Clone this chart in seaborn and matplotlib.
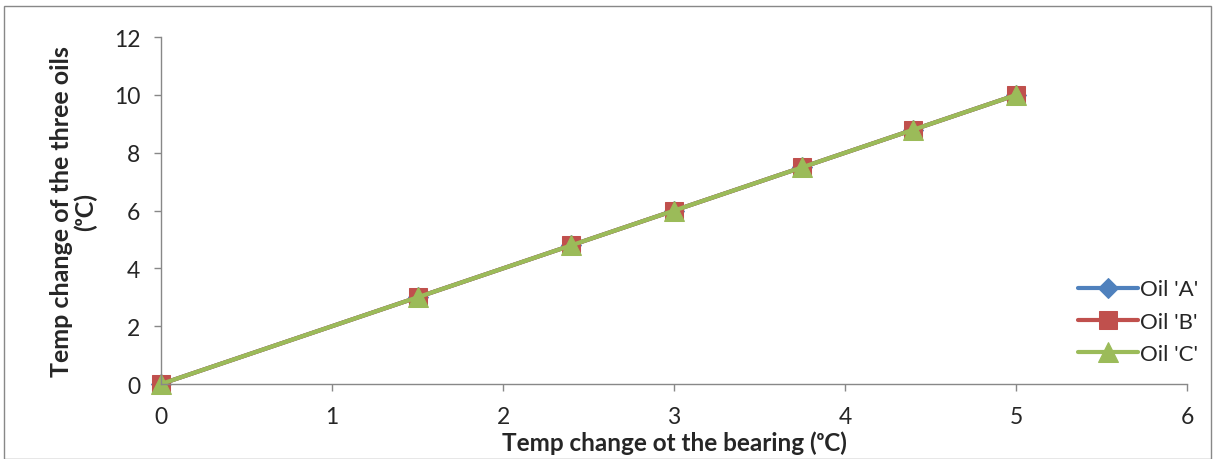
import matplotlib
matplotlib.use("Agg")
import matplotlib.pyplot as plt
import seaborn as sns
import pandas as pd
from matplotlib.patches import Rectangle

bearing = [0, 1.5, 2.4, 3, 3.75, 4.4, 5]
oil_a = [0, 3, 4.8, 6, 7.5, 8.8, 10]
oil_b = [0, 3, 4.8, 6, 7.5, 8.8, 10]
oil_c = [0, 3, 4.8, 6, 7.5, 8.8, 10]
series_names = ["Oil 'A'", "Oil 'B'", "Oil 'C'"]
x_ticks = [0, 1, 2, 3, 4, 5, 6]
y_ticks = [0, 2, 4, 6, 8, 10, 12]

sns.set_style("white")
plt.rcParams['font.family'] = ['Lato', 'DejaVu Sans']

fig = plt.figure(figsize=(12.15, 4.6), dpi=100)
ax = fig.add_axes([0.1325, 0.163, 0.977 - 0.1325, 0.917 - 0.163])

colors = ["#4F81BD", "#C0504D", "#9BBB59"]
markers = ["D", "s", "^"]
msizes = [10, 13, 14]
for vals, name, c, m, ms in zip([oil_a, oil_b, oil_c], series_names, colors, markers, msizes):
    df = pd.DataFrame({"x": bearing, "y": vals})
    sns.lineplot(data=df, x="x", y="y", ax=ax, color=c, marker=m, markersize=ms,
                 markeredgecolor=c, linewidth=3, label=name, clip_on=False)

ax.set_xlim(0, 6)
ax.set_ylim(0, 12)
ax.set_xticks(x_ticks)
ax.set_yticks(y_ticks)
ax.tick_params(axis='both', labelsize=16.5, length=5, width=1, color="#888888", direction='out',
               bottom=True, left=True)
ax.tick_params(axis='y', pad=10)
ax.tick_params(axis='x', pad=11)
for s in ["top", "right"]:
    ax.spines[s].set_visible(False)
for s in ["left", "bottom"]:
    ax.spines[s].set_color("#888888")
    ax.spines[s].set_linewidth(1)

ax.set_xlabel("Temp change ot the bearing (ᵒC)", fontsize=17.5, fontweight='bold', labelpad=2)
ax.set_ylabel("Temp change of the three oils\n(ᵒC)", fontsize=18, fontweight='bold', labelpad=12,
              linespacing=1.0)

leg = ax.legend(loc='center left', bbox_to_anchor=(0.885, 0.18), frameon=False, fontsize=16,
                handlelength=2.7, labelspacing=0.55, handletextpad=0.1, borderaxespad=0)

fig.patches.append(Rectangle((0.003, 0.0), 0.994, 0.985, transform=fig.transFigure,
                             fill=False, edgecolor="#888888", linewidth=1))

fig.savefig("out.png", dpi=100)
